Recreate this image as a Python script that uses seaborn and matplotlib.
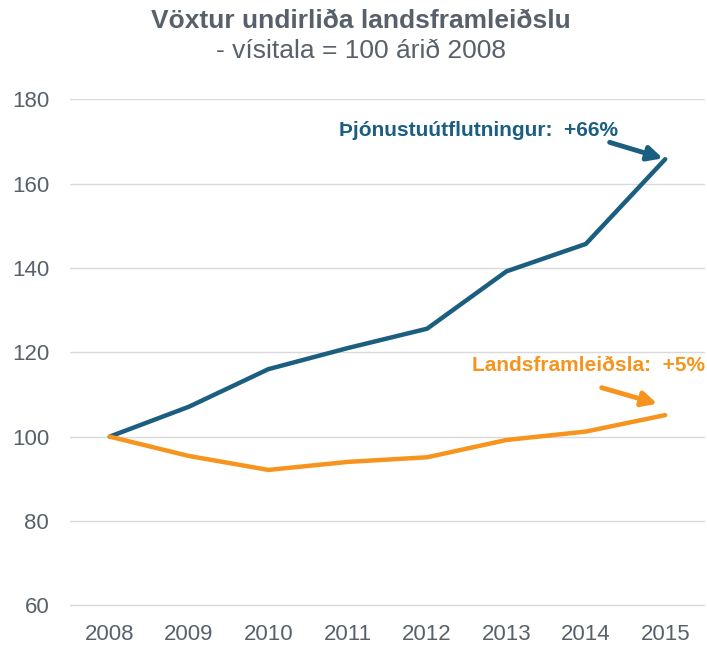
import numpy as np
import pandas as pd
import matplotlib
matplotlib.use("Agg")
import matplotlib.pyplot as plt
import seaborn as sns

# data (index, 2008 = 100)
years = [2008, 2009, 2010, 2011, 2012, 2013, 2014, 2015]
services_export = [100, 107.1, 116.0, 121.0, 125.6, 139.2, 145.7, 165.8]
gdp = [100, 95.4, 92.1, 94.0, 95.1, 99.2, 101.2, 105.1]
y_ticks = [60, 80, 100, 120, 140, 160, 180]

blue = "#1B5E80"
orange = "#F7941D"
grey = "#58616B"

sns.set_theme(style="white")
plt.rcParams['font.family'] = ['Liberation Sans', 'DejaVu Sans']

df = pd.DataFrame({
    "year": years * 2,
    "value": services_export + gdp,
    "series": ["Þjónustuútflutningur"] * len(years) + ["Landsframleiðsla"] * len(years),
})

fig = plt.figure(figsize=(7.07, 6.45), dpi=100)
ax = fig.add_axes([0.099, 0.059, 0.898, 0.787])

sns.lineplot(data=df, x="year", y="value", hue="series",
             palette=[blue, orange], linewidth=3.2, legend=False, ax=ax)

ax.set_xlim(2007.5, 2015.5)
ax.set_ylim(59.6, 180)
ax.set_xticks(years)
ax.set_yticks(y_ticks)
ax.set_xlabel("")
ax.set_ylabel("")
ax.grid(axis="y", color="#D9D9D9", linewidth=1)
ax.set_axisbelow(True)
for s in ax.spines.values():
    s.set_visible(False)
ax.tick_params(axis="both", labelsize=16, colors=grey, length=0)
ax.tick_params(axis="x", pad=12)
ax.tick_params(axis="y", pad=15)

# title
fig.text(0.51, 0.968, "Vöxtur undirliða landsframleiðslu", ha="center", va="center",
         fontsize=19, fontweight="bold", color=grey)
fig.text(0.51, 0.921, "- vísitala = 100 árið 2008", ha="center", va="center",
         fontsize=19, color=grey)

# annotations
ax.text(2014.41, 172.7, "Þjónustuútflutningur:  +66%", ha="right", va="center",
        fontsize=15, fontweight="bold", color=blue)
ax.annotate("", xy=(2014.97, 166.0), xytext=(2014.3, 169.8),
            arrowprops=dict(arrowstyle="-|>", color=blue, lw=3.5, mutation_scale=22,
                            shrinkA=0, shrinkB=0))
ax.annotate("", xy=(2014.9, 107.8), xytext=(2014.2, 111.6),
            arrowprops=dict(arrowstyle="-|>", color=orange, lw=3.5, mutation_scale=22,
                            shrinkA=0, shrinkB=0))
ax.text(2015.5, 116.8, "Landsframleiðsla:  +5%", ha="right", va="center",
        fontsize=15, fontweight="bold", color=orange)

fig.savefig("out.png", dpi=100)
